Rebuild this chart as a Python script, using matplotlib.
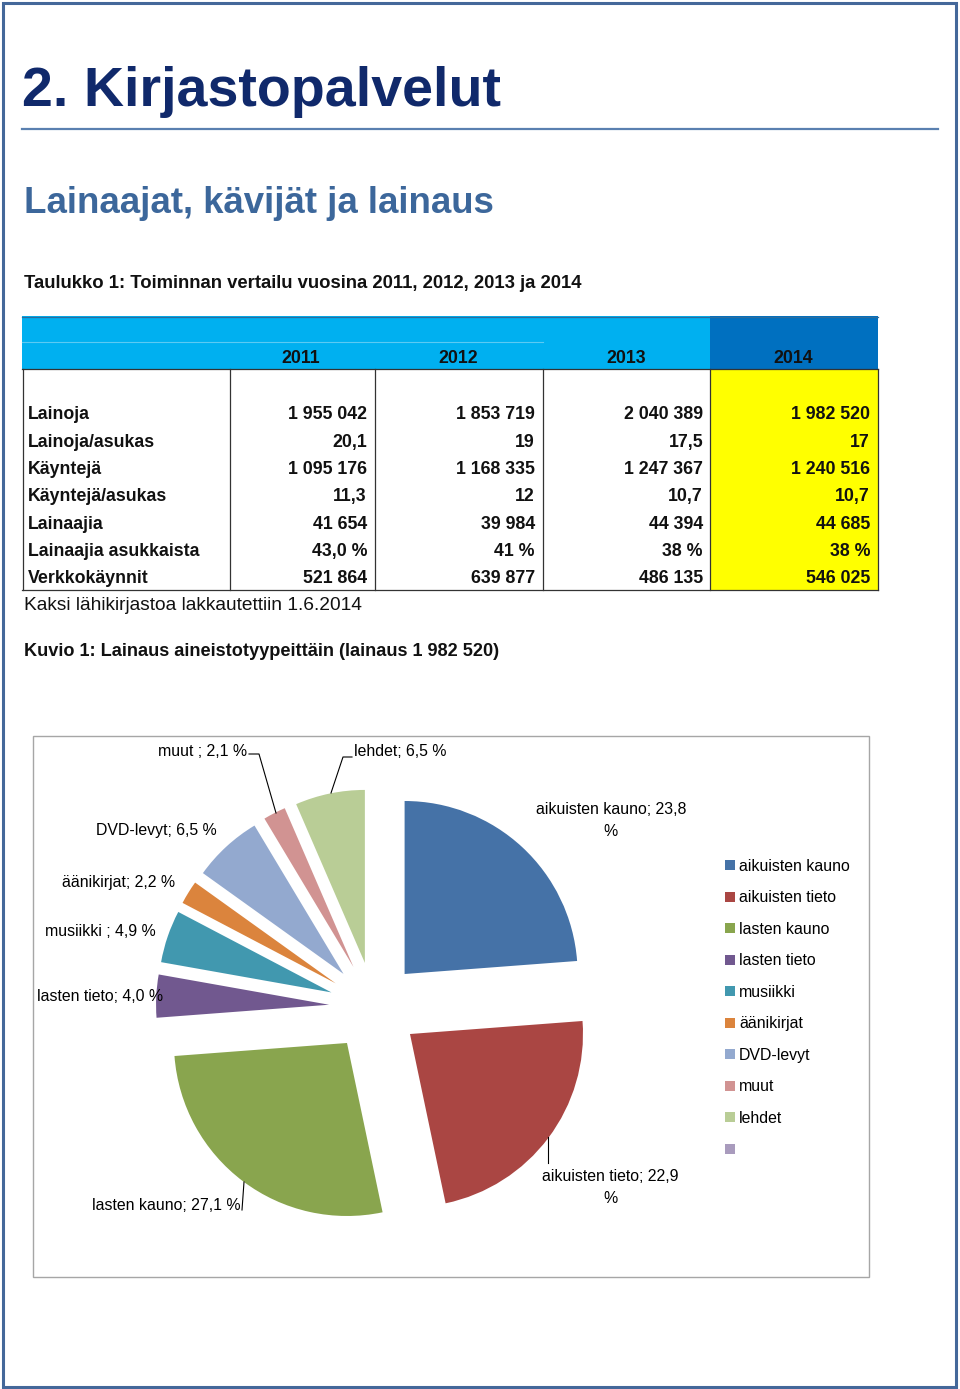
import matplotlib
matplotlib.use("Agg")
import matplotlib.pyplot as plt
from matplotlib.patches import Rectangle, Patch

plt.rcParams['font.family'] = ['Liberation Sans', 'DejaVu Sans']

# taulukko
years = ['2011', '2012', '2013', '2014']
row_labels = ['Lainoja', 'Lainoja/asukas', 'Käyntejä', 'Käyntejä/asukas',
              'Lainaajia', 'Lainaajia asukkaista', 'Verkkokäynnit']
v2011 = ['1 955 042', '20,1', '1 095 176', '11,3', '41 654', '43,0 %', '521 864']
v2012 = ['1 853 719', '19', '1 168 335', '12', '39 984', '41 %', '639 877']
v2013 = ['2 040 389', '17,5', '1 247 367', '10,7', '44 394', '38 %', '486 135']
v2014 = ['1 982 520', '17', '1 240 516', '10,7', '44 685', '38 %', '546 025']

# kuvio
categories = ['aikuisten kauno', 'aikuisten tieto', 'lasten kauno', 'lasten tieto',
              'musiikki ', 'äänikirjat', 'DVD-levyt', 'muut ', 'lehdet']
shares = [23.8, 22.9, 27.1, 4.0, 4.9, 2.2, 6.5, 2.1, 6.5]
colors = ['#4572A7', '#AA4643', '#89A54E', '#71588F', '#4198AF',
          '#DB843D', '#93A9CF', '#D19392', '#B9CD96', '#A99BBD']

W, H = 960, 1389
fig = plt.figure(figsize=(W / 100, H / 100), dpi=100)
ax = fig.add_axes([0, 0, 1, 1])

# pie first (pixel coords, y down -> counterclock=True draws clockwise)
wedges, _ = ax.pie(shares, colors=colors[:9], startangle=-90, counterclock=True,
                   radius=173, center=(374, 1007), explode=[45] * 9,
                   frame=True, wedgeprops=dict(linewidth=0))
ax.set_xlim(0, W)
ax.set_ylim(H, 0)
ax.set_aspect('equal')
ax.axis('off')

navy = '#10296b'
# sivun reunus
ax.add_patch(Rectangle((3, 3), 953, 1384, fill=False, ec='#44689a', lw=2.2))

ax.text(22, 106, '2. Kirjastopalvelut', fontsize=40.1, fontweight='bold',
        color=navy, va='baseline')
ax.plot([22, 938], [129, 129], color='#5a80b0', lw=1.6)
ax.text(24, 213, 'Lainaajat, kävijät ja lainaus', fontsize=26.4, fontweight='bold',
        color='#3c679b', va='baseline')
ax.text(24, 288, 'Taulukko 1: Toiminnan vertailu vuosina 2011, 2012, 2013 ja 2014',
        fontsize=13.37, fontweight='bold', color='#111111', va='baseline')

# taulukon otsikkorivi
ax.add_patch(Rectangle((22, 316), 688, 53, color='#00b0f0', lw=0))
ax.add_patch(Rectangle((710, 316), 168, 53, color='#0070c0', lw=0))
ax.add_patch(Rectangle((710, 369), 168, 221, color='#ffff00', lw=0))
ax.plot([22, 543], [342, 342], color='#5ccaf3', lw=0.8)
ax.plot([22, 878], [316.5, 316.5], color='#2d6c9c', lw=0.9)

col_right = [367, 535, 703, 870]
col_center = [301, 458, 626, 793]
for yr, cx in zip(years, col_center):
    ax.text(cx, 363, yr, fontsize=12.8, fontweight='bold', color='#111111',
            ha='center', va='baseline')

grid = '#333333'
ax.plot([22, 878], [369, 369], color=grid, lw=0.9)
ax.plot([22, 878], [590, 590], color=grid, lw=0.9)
for gx in [22.5, 229.5, 375, 543, 710, 877.5]:
    ax.plot([gx, gx], [369, 590], color=grid, lw=0.9)

row_pitch = 27.33
for i, lab in enumerate(row_labels):
    by = 419.3 + i * row_pitch
    ax.text(28, by, lab, fontsize=12.8, fontweight='bold', color='#111111', va='baseline')
    for vals, rx in zip([v2011, v2012, v2013, v2014], col_right):
        ax.text(rx, by, vals[i], fontsize=12.8, fontweight='bold', color='#111111',
                ha='right', va='baseline')

ax.text(24, 610, 'Kaksi lähikirjastoa lakkautettiin 1.6.2014', fontsize=13.8,
        color='#111111', va='baseline')
ax.text(24, 656, 'Kuvio 1: Lainaus aineistotyypeittäin (lainaus 1 982 520)',
        fontsize=13.1, fontweight='bold', color='#111111', va='baseline')

# kaavion kehys
ax.add_patch(Rectangle((33, 736), 836, 541, fill=False, ec='#a6a6a6', lw=1.0))

# arvopisteiden selitteet
def lab(i):
    return categories[i] + '; ' + f'{shares[i]:.1f}'.replace('.', ',') + ' %'

fs = 11.4
ax.text(611, 820.5, lab(0)[:-2] + '\n%', fontsize=fs, ha='center', va='center',
        linespacing=1.55)
ax.text(610, 1187.5, lab(1)[:-2] + '\n%', fontsize=fs, ha='center', va='center',
        linespacing=1.55)
ax.text(92, 1205.5, lab(2), fontsize=fs, va='center')
ax.text(37, 996.5, lab(3), fontsize=fs, va='center')
ax.text(45, 931, lab(4), fontsize=fs, va='center')
ax.text(62, 882, lab(5), fontsize=fs, va='center')
ax.text(96, 830, lab(6), fontsize=fs, va='center')
ax.text(158, 752, lab(7), fontsize=fs, va='center')
ax.text(354, 751.5, lab(8), fontsize=fs, va='center')

# johtoviivat
ax.plot([249, 259, 276], [754, 754, 813], color='black', lw=0.8)
ax.plot([352, 343, 331], [757, 757, 793], color='black', lw=0.8)
ax.plot([548, 548], [1137, 1163], color='black', lw=0.8)
ax.plot([244, 242], [1182, 1210], color='black', lw=0.8)

handles = [Patch(fc=c, ec='none') for c in colors]
ax.legend(handles, [c.strip() for c in categories] + [''], loc='upper left',
          bbox_to_anchor=(725, 859), bbox_transform=ax.transData,
          frameon=False, borderpad=0, borderaxespad=0, fontsize=fs,
          handlelength=0.6, handleheight=0.6, handletextpad=0.3,
          labelspacing=1.04)

fig.savefig('out.png', dpi=100, facecolor='white')
